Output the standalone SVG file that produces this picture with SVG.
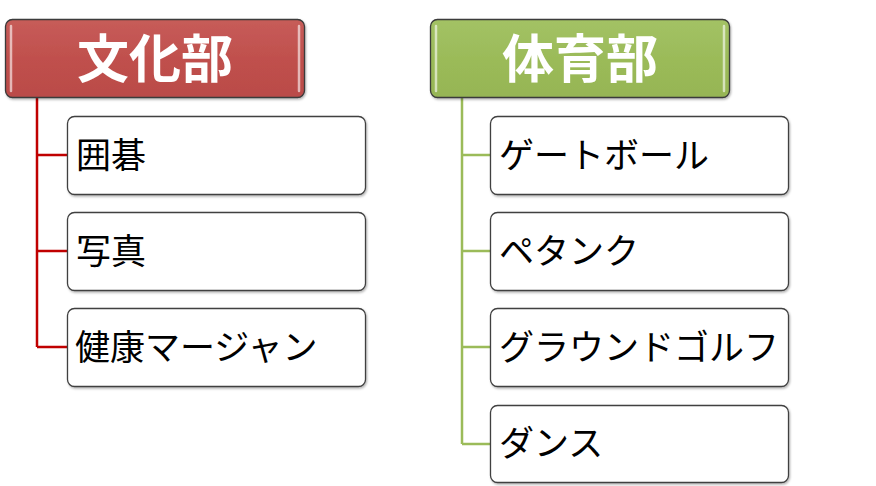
<svg xmlns="http://www.w3.org/2000/svg" width="876" height="486" viewBox="0 0 876 486">
<defs>
<linearGradient id="gRed" x1="0" y1="0" x2="0" y2="1">
<stop offset="0" stop-color="#C75C59"/><stop offset="0.5" stop-color="#C0504D"/><stop offset="1" stop-color="#BA4B48"/>
</linearGradient>
<linearGradient id="gGreen" x1="0" y1="0" x2="0" y2="1">
<stop offset="0" stop-color="#A3C265"/><stop offset="0.5" stop-color="#9BBB59"/><stop offset="1" stop-color="#96B554"/>
</linearGradient>
<filter id="sh" x="-5%" y="-10%" width="115%" height="130%">
<feDropShadow dx="1" dy="1.5" stdDeviation="1.2" flood-color="#000" flood-opacity="0.3"/>
</filter>
</defs>
<style>
.head{stroke:#3A3A3A;stroke-width:1.3;filter:url(#sh)}
.hl{stroke:#FFFFFF;stroke-opacity:0.6;stroke-width:2.5;stroke-linecap:round}
.ht{font-family:"Noto Sans CJK JP","Noto Sans CJK SC",sans-serif;font-weight:bold;font-size:52px;fill:#FFFFFF;text-anchor:middle;dominant-baseline:central}
.box{fill:#FFFFFF;stroke:#404040;stroke-width:1.3;filter:url(#sh)}
.bt{font-family:"Noto Sans CJK JP","Noto Sans CJK SC",sans-serif;font-size:35px;fill:#000000;dominant-baseline:central}
.cr{fill:none;stroke:#C00000;stroke-width:2.5}
.cg{fill:none;stroke:#9BBB59;stroke-width:2.5}
</style>
<g id="connectors">
<path class="cr" d="M37,98 V347 M37,155 H67 M37,251 H67 M37,347 H67"/>
<path class="cg" d="M462,98 V444 M462,155 H490 M462,251 H490 M462,347 H490 M462,444 H490"/>
</g>
<g id="bunkabu">
<rect class="head" x="5.5" y="19.5" width="299" height="78" rx="7" fill="url(#gRed)"/>
<line class="hl" x1="11" y1="26" x2="11" y2="91"/>
<line class="hl" x1="299" y1="26" x2="299" y2="91"/>
<text class="ht" x="155" y="55">文化部</text>
</g>
<g id="taiikubu">
<rect class="head" x="430.5" y="19.5" width="299" height="78" rx="7" fill="url(#gGreen)"/>
<line class="hl" x1="436" y1="26" x2="436" y2="91"/>
<line class="hl" x1="724" y1="26" x2="724" y2="91"/>
<text class="ht" x="580" y="55">体育部</text>
</g>
<g id="igo">
<rect class="box" x="67.5" y="116.5" width="298" height="78" rx="7"/>
<text class="bt" x="76" y="152">囲碁</text>
</g>
<g id="shashin">
<rect class="box" x="67.5" y="212.5" width="298" height="78" rx="7"/>
<text class="bt" x="76" y="248">写真</text>
</g>
<g id="mahjong">
<rect class="box" x="67.5" y="308.5" width="298" height="78" rx="7"/>
<text class="bt" x="75" y="344">健康マージャン</text>
</g>
<g id="gateball">
<rect class="box" x="490.5" y="116.5" width="298" height="78" rx="7"/>
<text class="bt" x="499" y="152">ゲートボール</text>
</g>
<g id="petanque">
<rect class="box" x="490.5" y="212.5" width="298" height="78" rx="7"/>
<text class="bt" x="499" y="248">ペタンク</text>
</g>
<g id="groundgolf">
<rect class="box" x="490.5" y="308.5" width="298" height="78" rx="7"/>
<text class="bt" x="499" y="344">グラウンドゴルフ</text>
</g>
<g id="dance">
<rect class="box" x="490.5" y="405.5" width="298" height="77" rx="7"/>
<text class="bt" x="499" y="440">ダンス</text>
</g>
</svg>
